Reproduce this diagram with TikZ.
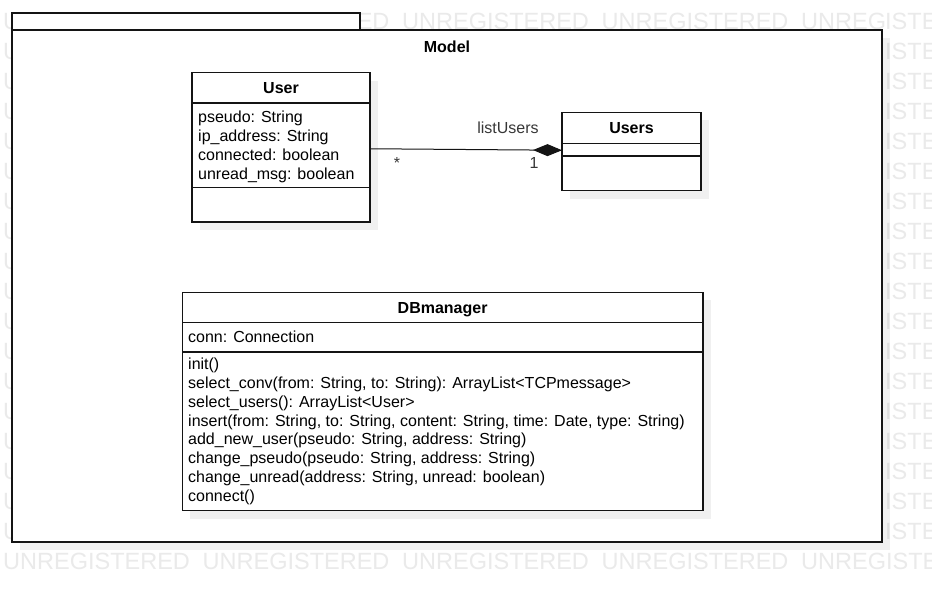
\documentclass[tikz,border=0pt]{standalone}
\usepackage{fontspec}
\setmainfont{Liberation Sans}
\usetikzlibrary{arrows.meta}
\definecolor{wm}{RGB}{234,234,234}
\definecolor{ink}{RGB}{20,20,20}
\begin{document}
\begin{tikzpicture}[x=1pt,y=-1pt,
  box/.style={draw=ink, line width=1.2pt, fill=white, anchor=north west, inner sep=0pt, outer sep=0pt},
  shadowbox/.style={fill=black, fill opacity=0.06, draw=none, anchor=north west, inner sep=0pt, outer sep=0pt},
  txt/.style={anchor=base west, inner sep=0pt, font=\fontsize{16}{19}\selectfont},
  ttl/.style={anchor=base, inner sep=0pt, font=\bfseries\fontsize{16}{19}\selectfont},
  lbl/.style={anchor=base, inner sep=0pt, text=ink!85, font=\fontsize{16}{19}\selectfont},
  wmtext/.style={anchor=base west, inner sep=0pt, text=wm, font=\fontsize{23.5}{24}\selectfont},
  sep/.style={draw=ink, line width=1.2pt},
  compo/.style={draw=ink, line width=1pt, -{Diamond[length=29pt,width=12pt]}}]
\useasboundingbox (0,0) rectangle (932,592);
\fill[white] (0,0) rectangle (932,592);
% watermark (only the parts that show around the package)
\begin{scope}
  \clip (0,0) rectangle (932,592);
  \foreach \i in {0,...,17} {
    \node[wmtext] (wml\i) at (3,29.5+30*\i) {U};
    \node[wmtext] (wmr\i) at (885,29.5+30*\i) {ISTE};
  }
  \foreach \k in {1,2,3} \node[wmtext] (wmt\k) at (3+199.5*\k,29.5) {UNREGISTERED};
  \node[wmtext] (wmt4) at (801,29.5) {UNREG};
  \foreach \k in {0,...,3} \node[wmtext] (wmb\k) at (3+199.5*\k,569.5) {UNREGISTERED};
  \node[wmtext] (wmb4) at (801,569.5) {UNREGISTE};
\end{scope}
% package
\node[shadowbox, minimum width=870pt, minimum height=512pt] (modelsh) at (20,38) {};
\node[box, minimum width=348pt, minimum height=17pt] (tab) at (12,13) {};
\node[box, minimum width=870pt, minimum height=512pt] (model) at (12,30) {};
\node[ttl] (modelname) at (447,52) {Model};
% User
\node[shadowbox, minimum width=178pt, minimum height=149.5pt] (usersh) at (200,80.5) {};
\node[box, minimum width=178pt, minimum height=149.5pt] (user) at (192,72.5) {};
\node[ttl] (usertitle) at (281,93) {User};
\draw[sep] (user.west |- 0,103) -- (user.east |- 0,103);
\draw[sep] (user.west |- 0,187.5) -- (user.east |- 0,187.5);
\node[txt] (ua1) at (198,122) {pseudo: String};
\node[txt] (ua2) at (198,141) {ip\_address: String};
\node[txt] (ua3) at (198,160) {connected: boolean};
\node[txt] (ua4) at (198,179) {unread\_msg: boolean};
% Users
\node[shadowbox, minimum width=139pt, minimum height=78.5pt] (userssh) at (570,120.3) {};
\node[box, minimum width=139pt, minimum height=78.5pt] (users) at (562,112.3) {};
\node[ttl] (userstitle) at (631.5,133) {Users};
\draw[sep] (users.west |- 0,143.3) -- (users.east |- 0,143.3);
\draw[sep] (users.west |- 0,156) -- (users.east |- 0,156);
% association
\draw[compo] ([yshift=-1.5pt]user.east) -- ([yshift=1.3pt]users.west);
\node[lbl] (rolename) at (508,133) {listUsers};
\node[lbl] (multmany) at (397,168) {*};
\node[lbl] (multone) at (534,168) {1};
% DBmanager
\node[shadowbox, minimum width=520.7pt, minimum height=218.4pt] (dbsh) at (190.3,300.3) {};
\node[box, minimum width=520.7pt, minimum height=218.4pt] (db) at (182.3,292.3) {};
\node[ttl] (dbtitle) at (442.6,313) {DBmanager};
\draw[sep] (db.west |- 0,322.7) -- (db.east |- 0,322.7);
\draw[sep] (db.west |- 0,352) -- (db.east |- 0,352);
\node[txt] (da1) at (188,342) {conn: Connection};
\foreach \t [count=\k from 0] in {init(),
  select\_conv(from: String{,} to: String): ArrayList<TCPmessage>,
  select\_users(): ArrayList<User>,
  insert(from: String{,} to: String{,} content: String{,} time: Date{,} type: String),
  add\_new\_user(pseudo: String{,} address: String),
  change\_pseudo(pseudo: String{,} address: String),
  change\_unread(address: String{,} unread: boolean),
  connect()}
  \node[txt] (dm\k) at (188,369.5+18.85*\k) {\t};
\end{tikzpicture}
\end{document}
